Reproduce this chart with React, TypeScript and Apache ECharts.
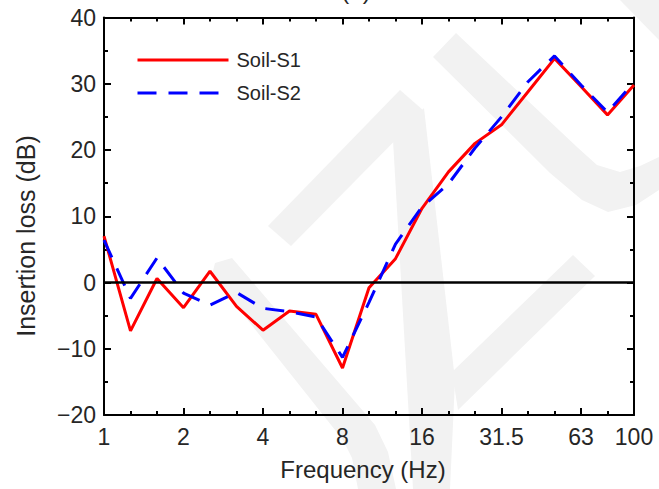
import React, { useEffect, useRef } from "react";
import * as echarts from "echarts";

const freqs = ["1", "1.25", "1.6", "2", "2.5", "3.15", "4", "5", "6.3", "8", "10", "12.5", "16", "20", "25", "31.5", "40", "50", "63", "80", "100"];
const majorIdx = [0, 3, 6, 9, 12, 15, 18, 20];
const tickLabels = ["1", "2", "4", "8", "16", "31.5", "63", "100"];
const soilS1 = [7.0, -7.3, 0.6, -3.8, 1.7, -3.6, -7.2, -4.3, -4.8, -12.9, -0.8, 3.6, 11.2, 16.7, 21.0, 23.8, 28.8, 33.8, 29.6, 25.3, 29.8];
const soilS2 = [6.4, -2.4, 3.7, -1.6, -3.4, -1.5, -3.9, -4.4, -5.2, -11.3, -3.0, 5.8, 11.4, 14.9, 20.3, 25.0, 30.3, 34.2, 29.8, 25.7, 30.2];
const yMin = -20;
const yMax = 40;

const FONT = "'Liberation Sans', Arial, Helvetica, sans-serif";
const TXT = "#262626";
const WM = "#f2f2f2";

const watermark = [
  [[268, 226], [400, 90], [424, 111], [291, 246]],
  [[393, 140], [424, 108], [455, 380], [450, 489], [413, 489]],
  [[452, 372], [573, 255], [595, 276], [458, 410]],
  [[433, 57], [456, 33], [577, 147], [597, 165], [620, 172], [640, 166], [659, 157], [659, 190], [636, 205], [608, 212], [582, 200], [550, 173]],
  [[620, 0], [659, 0], [659, 40]],
  [[215, 263], [232, 258], [375, 425], [388, 452], [396, 489], [358, 489], [352, 458], [343, 440], [212, 275]],
];

export default function App() {
  const ref = useRef<HTMLDivElement>(null);
  useEffect(() => {
    if (!ref.current) return;
    const chart = echarts.init(ref.current, undefined, { renderer: "svg" });
    const isMajor = (i: number) => majorIdx.indexOf(i) >= 0;
    const baseX = {
      type: "category" as const,
      data: freqs,
      boundaryGap: false,
      gridIndex: 0,
      axisLine: { show: true, onZero: false, lineStyle: { color: "#000", width: 2 } },
      splitLine: { show: false },
    };
    const minorTick = { show: true, inside: true, length: 4, interval: 0, lineStyle: { color: "#000", width: 2 } };
    const majorTick = { show: true, inside: true, length: 7, interval: (i: number) => isMajor(i), lineStyle: { color: "#000", width: 2 } };
    const baseY = {
      type: "value" as const,
      min: yMin,
      max: yMax,
      interval: 10,
      axisLine: { show: true, onZero: false, lineStyle: { color: "#000", width: 2 } },
      axisTick: { show: true, inside: true, length: 7, lineStyle: { color: "#000", width: 2 } },
      minorTick: { show: true, splitNumber: 2, length: 4, lineStyle: { color: "#000", width: 2 } },
      splitLine: { show: false },
      minorSplitLine: { show: false },
    };
    chart.setOption({
      animation: false,
      backgroundColor: "#fff",
      grid: { left: 104, right: 25, top: 17.5, bottom: 74 },
      graphic: [
        ...watermark.map((pts) => ({
          type: "polygon",
          z: -10,
          silent: true,
          shape: { points: pts },
          style: { fill: WM },
        })),
        {
          type: "text",
          x: 356,
          y: 2,
          z: 5,
          style: { text: "(a)", font: `24px ${FONT}`, fill: TXT, textAlign: "center", textVerticalAlign: "bottom" },
        },
        {
          type: "text",
          x: 26,
          y: 236,
          rotation: Math.PI / 2,
          z: 5,
          style: { text: "Insertion loss (dB)", font: `25px ${FONT}`, fill: TXT, textAlign: "center", textVerticalAlign: "middle" },
        },
        {
          type: "text",
          x: 363,
          y: 469,
          z: 5,
          style: { text: "Frequency (Hz)", font: `24px ${FONT}`, fill: TXT, textAlign: "center", textVerticalAlign: "middle" },
        },
      ],
      legend: {
        data: ["Soil-S1", "Soil-S2"],
        orient: "vertical",
        left: 131,
        top: 45,
        itemWidth: 91,
        itemHeight: 14,
        itemGap: 13,
        lineStyle: { width: 3 },
        itemStyle: { opacity: 0 },
        textStyle: { fontSize: 20, color: TXT, fontFamily: FONT, lineHeight: 20, padding: [0, 0, 0, 3] },
      },
      xAxis: [
        {
          ...baseX,
          position: "bottom",
          axisTick: minorTick,
          axisLabel: {
            show: true,
            interval: (i: number) => isMajor(i),
            formatter: (_v: string, i: number) => {
              const k = majorIdx.indexOf(i);
              return k >= 0 ? tickLabels[k] : "";
            },
            margin: 10,
            fontSize: 23,
            color: TXT,
            fontFamily: FONT,
          },
        },
        { ...baseX, position: "bottom", axisLine: { show: false, onZero: false }, axisTick: majorTick, axisLabel: { show: false } },
        { ...baseX, position: "top", axisTick: minorTick, axisLabel: { show: false } },
        { ...baseX, position: "top", axisLine: { show: false, onZero: false }, axisTick: majorTick, axisLabel: { show: false } },
      ],
      yAxis: [
        {
          ...baseY,
          position: "left",
          axisLabel: {
            margin: 8,
            fontSize: 23,
            color: TXT,
            fontFamily: FONT,
            formatter: (v: number) => (v < 0 ? "\u2212" + Math.abs(v) : String(v)),
          },
        },
        { ...baseY, position: "right", axisLabel: { show: false } },
      ],
      series: [
        {
          name: "Soil-S1",
          type: "line",
          xAxisIndex: 0,
          yAxisIndex: 0,
          data: soilS1,
          symbol: "none",
          showSymbol: false,
          lineStyle: { color: "#ff0000", width: 3, type: "solid" },
          itemStyle: { color: "#ff0000" },
          markLine: {
            silent: true,
            symbol: "none",
            label: { show: false },
            lineStyle: { color: "#000", width: 2.5, type: "solid" },
            data: [{ yAxis: 0 }],
          },
        },
        {
          name: "Soil-S2",
          type: "line",
          xAxisIndex: 0,
          yAxisIndex: 0,
          data: soilS2,
          symbol: "none",
          showSymbol: false,
          lineStyle: { color: "#0000ff", width: 3, type: [19, 12] },
          itemStyle: { color: "#0000ff" },
        },
      ],
    });
    return () => chart.dispose();
  }, []);
  return <div ref={ref} style={{ position: "fixed", left: 0, top: 0, width: 659, height: 489 }} />;
}
